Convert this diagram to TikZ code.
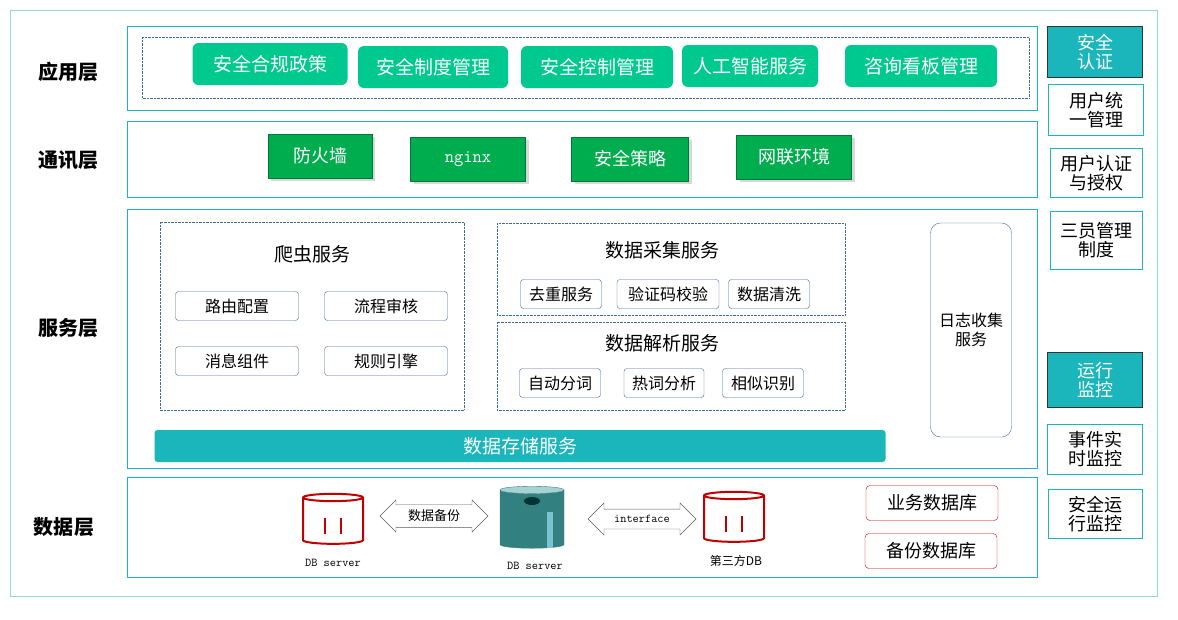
\documentclass[tikz,border=0pt]{standalone}
\usepackage{fontspec}
\setmainfont{Noto Sans CJK SC}
\usetikzlibrary{shapes.geometric, shapes.arrows, shadows}
\definecolor{frame}{HTML}{1BB5BC}
\definecolor{appgreen}{HTML}{00C98F}
\definecolor{comgreen}{HTML}{00AD4E}
\definecolor{boxblue}{HTML}{3E6A9C}
\definecolor{dbred}{HTML}{C00000}
\tikzset{
  layer/.style={draw=frame, thick},
  lname/.style={font=\bfseries\fontsize{20}{20}\selectfont},
  appbtn/.style={rectangle, rounded corners=6pt, fill=appgreen, text=white, minimum height=42pt, font=\fontsize{19}{19}\selectfont},
  combtn/.style={rectangle, fill=comgreen, draw=comgreen!70!black, text=white, minimum height=44pt, font=\fontsize{18}{18}\selectfont, drop shadow={shadow xshift=3pt, shadow yshift=-3pt, fill=gray!60}},
  dashbox/.style={draw=boxblue, densely dotted},
  item/.style={draw=boxblue, rounded corners=3pt, minimum height=29pt, font=\fontsize{16}{16}\selectfont},
  side/.style={draw=frame, minimum width=95pt, align=center, font=\fontsize{18}{19}\selectfont},
  sidehd/.style={side, draw=black!80, fill=frame, text=white},
  redbox/.style={draw=dbred, rounded corners=4pt, minimum width=132pt, minimum height=35pt, font=\fontsize{18}{18}\selectfont},
  reddb/.style={cylinder, shape border rotate=90, aspect=1.1, draw=dbred, line width=2pt, fill=white, minimum width=60pt, minimum height=50pt},
  dblink/.style={double arrow, draw=gray!70!black, fill=white, minimum height=108pt, minimum width=32pt, double arrow head extend=3pt, inner sep=1pt, font=\fontsize{13}{13}\selectfont},
  mono/.style={font=\ttfamily\fontsize{12}{12}\selectfont}
}
\begin{document}
\begin{tikzpicture}[x=1pt, y=-1pt]
\useasboundingbox (0,0) rectangle (1178,619);
\draw[frame!50] (10,10) rectangle (1157,596);

% layers
\draw[layer] (127,26) rectangle (1037,110);
\draw[dashbox] (142,37) rectangle (1029,98);
\draw[layer] (127,121) rectangle (1037,197);
\draw[layer] (127,209) rectangle (1037,468);
\draw[layer] (127,477) rectangle (1037,577);
\node[lname] (Lapp) at (68,72)  {应用层};
\node[lname] (Lcom) at (68,160) {通讯层};
\node[lname] (Lsrv) at (68,328) {服务层};
\node[lname] (Ldat) at (64,527) {数据层};

% application
\node[appbtn, minimum width=155pt] (A1) at (270,64) {安全合规政策};
\node[appbtn, minimum width=150pt] (A2) at (433,67) {安全制度管理};
\node[appbtn, minimum width=152pt] (A3) at (597,67) {安全控制管理};
\node[appbtn, minimum width=136pt] (A4) at (750,66) {人工智能服务};
\node[appbtn, minimum width=152pt] (A5) at (921,66) {咨询看板管理};

% communication
\node[combtn, minimum width=104pt] (C1) at (320,156) {防火墙};
\node[combtn, minimum width=115pt, font=\ttfamily\fontsize{18}{18}\selectfont] (C2) at (468,159) {nginx};
\node[combtn, minimum width=117pt] (C3) at (630,159) {安全策略};
\node[combtn, minimum width=115pt] (C4) at (794,157) {网联环境};

% services
\draw[dashbox] (160,222) rectangle (464,410);
\node[font=\fontsize{19}{19}\selectfont] (S1) at (312,254) {爬虫服务};
\node[item, minimum width=123pt] (S11) at (237,306) {路由配置};
\node[item, minimum width=123pt] (S12) at (386,306) {流程审核};
\node[item, minimum width=123pt] (S13) at (237,361) {消息组件};
\node[item, minimum width=123pt] (S14) at (386,361) {规则引擎};

\draw[dashbox] (497,223) rectangle (845,315);
\node[font=\fontsize{19}{19}\selectfont] (S2) at (662,250) {数据采集服务};
\node[item, minimum width=81pt] (S21) at (561,294) {去重服务};
\node[item, minimum width=102pt] (S22) at (668,294) {验证码校验};
\node[item, minimum width=81pt] (S23) at (769,294) {数据清洗};

\draw[dashbox] (497,322) rectangle (845,410);
\node[font=\fontsize{19}{19}\selectfont] (S3) at (662,343) {数据解析服务};
\node[item, minimum width=81pt] (S31) at (560,383) {自动分词};
\node[item, minimum width=80pt] (S32) at (664,383) {热词分析};
\node[item, minimum width=81pt] (S33) at (763,383) {相似识别};

\node[draw=boxblue, rounded corners=10pt, minimum width=81pt, minimum height=214pt, align=center, font=\fontsize{16}{19}\selectfont] (Log) at (971,330) {日志收集\\服务};
\node[fill=frame, rounded corners=3pt, minimum width=731pt, minimum height=32pt, text=white, font=\fontsize{19}{19}\selectfont] (Store) at (520,446) {数据存储服务};

% data
\node[reddb] (D1) at (333,522) {};
\draw[dbred, line width=2pt] (325,518) -- (325,534) (341,518) -- (341,534);
\node[cylinder, shape border rotate=90, aspect=1.1, cylinder uses custom fill, cylinder body fill=teal!60!gray, cylinder end fill=teal!35!white, draw=teal!50!gray, minimum width=64pt, minimum height=62pt] (D2) at (532,520) {};
\fill[teal!40!black] (532,501) ellipse (8pt and 4pt);
\fill[cyan!40, opacity=.7] (547,512) rectangle (553,548);
\node[reddb] (D3) at (734,520) {};
\draw[dbred, line width=2pt] (726,516) -- (726,532) (742,516) -- (742,532);
\node[mono] (N1) at (333,563) {DB server};
\node[mono] (N2) at (535,566) {DB server};
\node[font=\fontsize{12}{12}\selectfont] (N3) at (736,561) {第三方DB};
\node[dblink] (B1) at (434,516) {数据备份};
\node[dblink, font=\ttfamily\fontsize{12}{12}\selectfont] (B2) at (642,519) {interface};
\node[redbox] (R1) at (932,503) {业务数据库};
\node[redbox] (R2) at (931,551) {备份数据库};

% right column
\node[sidehd, minimum height=51pt] (P1) at (1095,52) {安全\\认证};
\node[side, minimum height=51pt] (P2) at (1096,110) {用户统\\一管理};
\node[side, minimum width=92pt, minimum height=49pt] (P3) at (1096,173) {用户认证\\与授权};
\node[side, minimum width=92pt, minimum height=58pt] (P4) at (1096,240) {三员管理\\制度};
\node[sidehd, minimum height=55pt] (P5) at (1095,380) {运行\\监控};
\node[side, minimum height=50pt] (P6) at (1095,449) {事件实\\时监控};
\node[side, minimum width=94pt, minimum height=49pt] (P7) at (1095,514) {安全运\\行监控};
\end{tikzpicture}
\end{document}
